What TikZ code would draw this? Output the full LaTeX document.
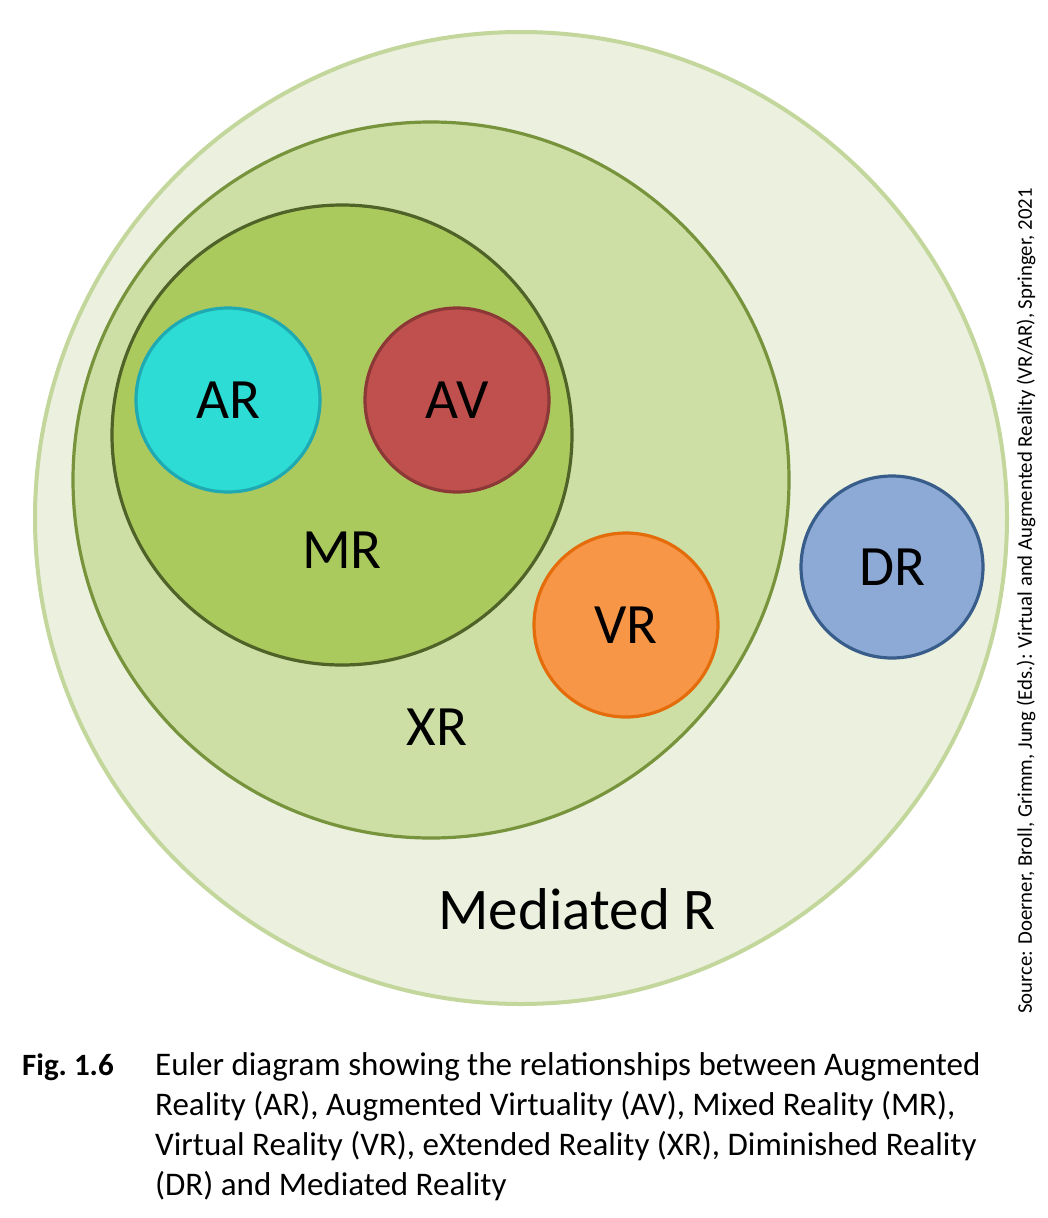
\documentclass[tikz,border=0pt]{standalone}
\usepackage{fontspec}
\setmainfont{Carlito}
\definecolor{medfill}{HTML}{EBF1DE}
\definecolor{meddraw}{HTML}{C3D69B}
\definecolor{xrfill}{HTML}{CDDFA4}
\definecolor{xrdraw}{HTML}{77933C}
\definecolor{mrfill}{HTML}{ABCA5E}
\definecolor{mrdraw}{HTML}{4F6228}
\definecolor{arfill}{HTML}{2EDCD6}
\definecolor{ardraw}{HTML}{1FA9B2}
\definecolor{avfill}{HTML}{C0504D}
\definecolor{avdraw}{HTML}{8C3836}
\definecolor{vrfill}{HTML}{F79646}
\definecolor{vrdraw}{HTML}{E46C0A}
\definecolor{drfill}{HTML}{8DAAD6}
\definecolor{drdraw}{HTML}{385D8A}
\tikzset{
  set/.style={circle, inner sep=0pt, line width=3.2pt, font=\fontsize{57}{60}\selectfont},
  lbl/.style={inner sep=0pt, font=\fontsize{57}{60}\selectfont},
  captext/.style={inner sep=0pt, anchor=base west, font=\fontsize{33}{40}\selectfont},
}
\begin{document}
\begin{tikzpicture}[x=1pt,y=-1pt]
\useasboundingbox (0,0) rectangle (1047,1218);
\node[set, draw=meddraw, fill=medfill, line width=4pt, minimum size=972pt] (med) at (521,518) {};
\node[set, draw=xrdraw, fill=xrfill, minimum size=716pt] (xr) at (431,480) {};
\node[set, draw=mrdraw, fill=mrfill, minimum size=460pt] (mr) at (342,435) {};
\node[set, draw=ardraw, fill=arfill, minimum size=184pt] (ar) at (228,400) {AR};
\node[set, draw=avdraw, fill=avfill, minimum size=184pt] (av) at (457,400) {AV};
\node[set, draw=vrdraw, fill=vrfill, minimum size=184pt] (vr) at (626,625) {VR};
\node[set, draw=drdraw, fill=drfill, minimum size=182pt] (dr) at (892,567) {DR};
\node[lbl] (mrl) at (342,550) {MR};
\node[lbl] (xrl) at (437,727) {XR};
\node[lbl, font=\fontsize{59}{60}\selectfont] (medl) at (577,909) {Mediated R};
\node[inner sep=0pt, rotate=90, font=\fontsize{20.8}{22}\selectfont] (src) at (1026,601) {Source: Doerner, Broll, Grimm, Jung (Eds.): Virtual and Augmented Reality (VR/AR), Springer, 2021};
\node[captext, font=\fontsize{31}{40}\selectfont\bfseries] (fig) at (22,1075) {Fig.~1.6};
\node[captext] (cap1) at (155,1075) {Euler diagram showing the relationships between Augmented};
\node[captext] (cap2) at (155,1115) {Reality (AR), Augmented Virtuality (AV), Mixed Reality (MR),};
\node[captext] (cap3) at (155,1155) {Virtual Reality (VR), eXtended Reality (XR), Diminished Reality};
\node[captext] (cap4) at (155,1195) {(DR) and Mediated Reality};
\end{tikzpicture}
\end{document}
